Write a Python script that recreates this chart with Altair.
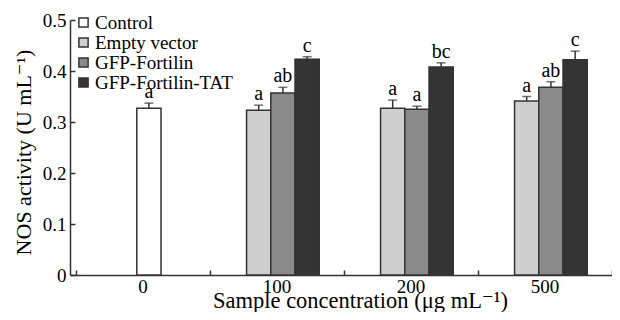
import altair as alt
import pandas as pd

# ---- data ----
concentrations = ["0", "100", "100", "100", "200", "200", "200", "500", "500", "500"]
series = ["Control",
          "Empty vector", "GFP-Fortilin", "GFP-Fortilin-TAT",
          "Empty vector", "GFP-Fortilin", "GFP-Fortilin-TAT",
          "Empty vector", "GFP-Fortilin", "GFP-Fortilin-TAT"]
values = [0.327, 0.323, 0.357, 0.423, 0.327, 0.325, 0.408, 0.341, 0.368, 0.422]
errors = [0.010, 0.010, 0.011, 0.005, 0.016, 0.006, 0.008, 0.009, 0.011, 0.017]
letters = ["a", "a", "ab", "c", "a", "a", "bc", "a", "ab", "c"]

conc_order = ["0", "100", "200", "500"]
series_order = ["Control", "Empty vector", "GFP-Fortilin", "GFP-Fortilin-TAT"]
fills = ["#ffffff", "#cfcfcf", "#8a8a8a", "#343434"]
y_ticks = [0, 0.1, 0.2, 0.3, 0.4, 0.5]

# Control shares the middle slot of its group
slot_of = {"Control": "b", "Empty vector": "a", "GFP-Fortilin": "b", "GFP-Fortilin-TAT": "c"}

df = pd.DataFrame({
    "conc": concentrations,
    "series": series,
    "value": values,
    "err": errors,
    "letter": letters,
})
df["upper"] = df["value"] + df["err"]
df["slot"] = df["series"].map(slot_of)

FONT = "Liberation Serif, Times New Roman, DejaVu Serif, serif"
DARK = "#333333"

xscale = alt.Scale(domain=conc_order, paddingInner=0, paddingOuter=0.0224, align=1)
offscale = alt.Scale(domain=["pL", "a", "b", "c", "pR"], paddingInner=0, paddingOuter=0.265, align=0.96)
yscale = alt.Scale(domain=[0, 0.5], nice=False, zero=True)

x_main_axis = alt.Axis(
    orient="bottom",
    title="Sample concentration (μg mL⁻¹)", labelAngle=0, ticks=False, tickSize=0,
    domainColor=DARK, domainWidth=1.5, labelFont=FONT, labelFontSize=19,
    labelColor="black", labelPadding=2, titleFont=FONT, titleFontSize=22.5,
    titleFontWeight="normal", titleColor="black", titleX=290, titleY=32,
    titleBaseline="alphabetic", grid=False,
)
y_main_axis = alt.Axis(
    orient="left",
    title="NOS activity (U mL⁻¹)", values=y_ticks, ticks=False, tickSize=0,
    labelExpr="datum.value == 0 ? '0' : format(datum.value, '.1f')",
    domainColor=DARK, domainWidth=1.5, labelFont=FONT, labelFontSize=19,
    labelColor="black", labelPadding=4, titleFont=FONT, titleFontSize=22,
    titleFontWeight="normal", titleColor="black", titleX=-47, titleY=132,
    titleBaseline="middle", grid=False,
)
x_tick_axis = alt.Axis(
    orient="bottom",
    title=None, domain=False, labels=False, ticks=True, tickSize=5, tickWidth=1.5,
    tickColor=DARK, offset=-5, tickBand="extent", grid=False,
)
y_tick_axis = alt.Axis(
    orient="left",
    title=None, domain=False, labels=False, ticks=True, tickSize=5, tickWidth=1.5,
    tickColor=DARK, offset=-5, values=y_ticks, grid=False,
)

base = alt.Chart(df)

bars = base.mark_bar(stroke=DARK, strokeWidth=1.5).encode(
    x=alt.X("conc:N", scale=xscale, axis=x_main_axis),
    xOffset=alt.XOffset("slot:N", scale=offscale),
    y=alt.Y("value:Q", scale=yscale, axis=y_main_axis),
    fill=alt.Fill(
        "series:N",
        scale=alt.Scale(domain=series_order, range=fills),
        legend=alt.Legend(
            title=None, orient="none", legendX=4, legendY=-7, padding=0,
            symbolType="square", symbolSize=85, symbolStrokeColor=DARK,
            symbolStrokeWidth=1.5, labelFont=FONT, labelFontSize=19,
            labelColor="black", rowPadding=0, labelOffset=2, labelLimit=300,
        ),
    ),
)

rules = base.mark_rule(color=DARK, strokeWidth=1.5).encode(
    x=alt.X("conc:N", scale=xscale, axis=None),
    xOffset=alt.XOffset("slot:N", scale=offscale),
    y=alt.Y("value:Q", scale=yscale, axis=None),
    y2="upper:Q",
)

caps = base.mark_tick(color=DARK, size=9, thickness=1.5).encode(
    x=alt.X("conc:N", scale=xscale, axis=x_tick_axis),
    xOffset=alt.XOffset("slot:N", scale=offscale),
    y=alt.Y("upper:Q", scale=yscale, axis=y_tick_axis),
)

labels = base.mark_text(baseline="bottom", dy=-1, font=FONT, fontSize=20, color="black").encode(
    x=alt.X("conc:N", scale=xscale, axis=None),
    xOffset=alt.XOffset("slot:N", scale=offscale),
    y=alt.Y("upper:Q", scale=yscale, axis=None),
    text="letter:N",
)

chart = (
    alt.layer(bars, rules, caps, labels)
    .resolve_axis(x="independent", y="independent")
    .properties(
        width=542, height=255,
        autosize=alt.AutoSizeParams(type="none"),
        padding={"left": 62, "top": 12, "right": 0, "bottom": 37},
    )
    .configure(font=FONT)
    .configure_view(stroke=None)
    .configure_axis(grid=False)
)

chart.save("out.html", embed_options={"renderer": "svg", "actions": False})
